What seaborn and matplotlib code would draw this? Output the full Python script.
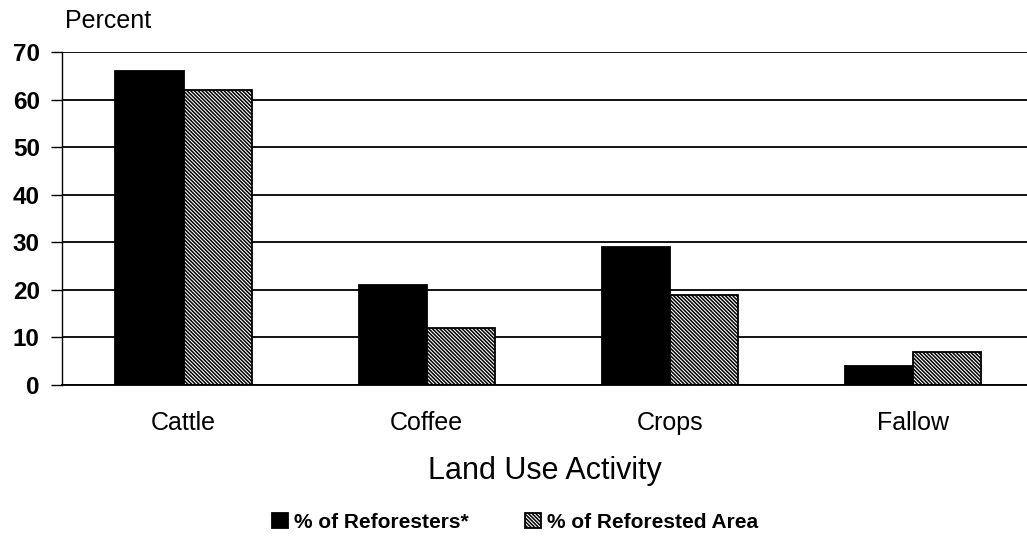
import numpy as np
import pandas as pd
import matplotlib.pyplot as plt
import seaborn as sns

sns.set_style("white")
plt.rcParams['font.family'] = ['Liberation Sans', 'DejaVu Sans']
plt.rcParams['hatch.linewidth'] = 1.1
plt.rcParams['text.color'] = 'black'
plt.rcParams['axes.labelcolor'] = 'black'
plt.rcParams['xtick.color'] = 'black'
plt.rcParams['ytick.color'] = 'black'

categories = ['Cattle', 'Coffee', 'Crops', 'Fallow']
reforesters = [66, 21, 29, 4]
reforested_area = [62, 12, 19, 7]
series = ['% of Reforesters*', '% of Reforested Area']

df = pd.DataFrame({
    'Activity': categories * 2,
    'Series': [series[0]] * 4 + [series[1]] * 4,
    'Percent': reforesters + reforested_area,
})

fig = plt.figure(figsize=(10.27, 5.42), dpi=100)
ax = fig.add_axes([62 / 1027, 1 - 385 / 542, 1 - 62 / 1027, (385 - 52) / 542])

sns.barplot(data=df, x='Activity', y='Percent', hue='Series',
            palette=['black', 'white'], width=0.56, edgecolor='black',
            linewidth=1.3, saturation=1, legend=False, ax=ax)

for p in ax.containers[1]:
    p.set_hatch('\\' * 9)

ax.set_xlim(-0.5, 3.47)
ax.set_ylim(0, 70)
ax.set_yticks(range(0, 71, 10))
ax.set_yticklabels([str(v) for v in range(0, 71, 10)], fontsize=17.5, fontweight='bold')
ax.set_axisbelow(True)
ax.yaxis.grid(True, color='black', linewidth=1.3)
ax.tick_params(axis='y', length=8, width=1, direction='out', pad=8, left=True)

# category labels, with boundary ticks between the groups
ax.set_xticks(range(len(categories)))
ax.set_xticklabels(categories, fontsize=18)
ax.tick_params(axis='x', length=0, pad=19)
ax.set_xticks([-0.48, 0.5, 1.5, 2.5], minor=True)
ax.tick_params(axis='x', which='minor', length=14, width=1, direction='inout')

for s in ['top', 'right']:
    ax.spines[s].set_visible(False)
ax.spines['left'].set_color('black')
ax.spines['bottom'].set_color('black')
ax.spines['left'].set_linewidth(1)
ax.spines['bottom'].set_linewidth(1.3)

ax.set_ylabel('')
ax.set_xlabel('Land Use Activity', fontsize=22, labelpad=15)
fig.text(65 / 1027, 1 - 21 / 542, 'Percent', fontsize=18, ha='left', va='center')

handles = [ax.containers[0][0], ax.containers[1][0]]
fig.legend(handles, series, loc='center', bbox_to_anchor=(515 / 1027, 1 - 522 / 542),
           ncol=2, frameon=False, handlelength=0.75, handleheight=0.75,
           handletextpad=0.3, columnspacing=2.7,
           prop={'size': 15, 'weight': 'bold'})

plt.savefig('out.png', dpi=100)
